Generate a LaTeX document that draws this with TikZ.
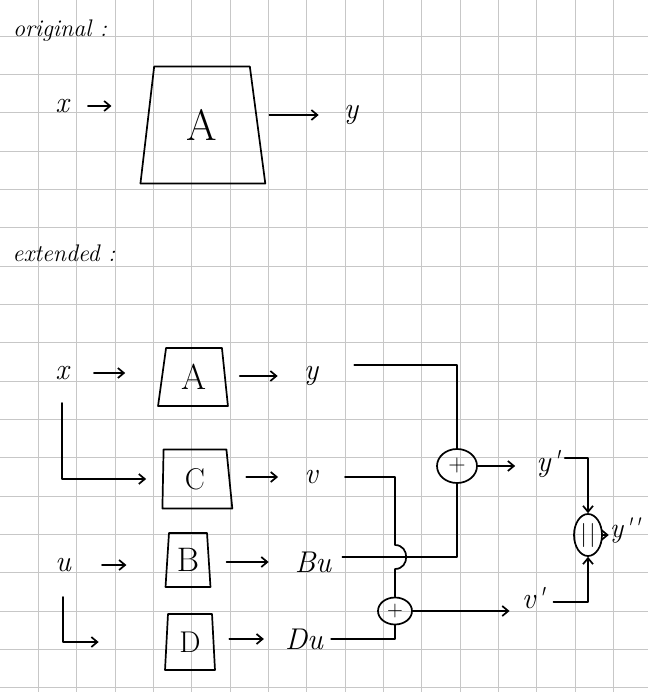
\documentclass[tikz,border=0pt]{standalone}
\usepackage{fontspec}
\newfontfamily\handfont{Latin Modern Roman}
\usetikzlibrary{arrows.meta,shapes.geometric}
\tikzset{
  ink/.style={line width=1.7pt, line cap=round, line join=round},
  arr/.style={ink, -{Straight Barb[length=6pt,width=10pt]}},
  blk/.style={draw, ink, trapezium, trapezium stretches=true, inner sep=0pt},
  var/.style={inner sep=1pt, font=\handfont\itshape\fontsize{30}{32}\selectfont},
  sumnode/.style={draw, ink, ellipse, inner sep=0pt, font=\handfont},
  gridline/.style={draw=black!22, line width=0.9pt},
  title/.style={font=\handfont\itshape\fontsize{24}{26}\selectfont, inner sep=0pt},
}
\begin{document}
\begin{tikzpicture}[x=1pt,y=-1pt]
\fill[white] (0,0) rectangle (648,692);
\useasboundingbox (0,0) rectangle (648,692);
\foreach \k in {1,...,16} \draw[gridline] ({38.33*\k},0) -- ({38.33*\k},692);
\foreach \k in {0,...,17} \draw[gridline] (0,{36+38.33*\k}) -- (648,{36+38.33*\k});

% ---------- original ----------
\node[title] (orig) at (60,31) {original :};
\node[var] (x1) at (62,106) {x};
\node[blk, trapezium left angle=82, trapezium right angle=81, minimum width=125pt, minimum height=117pt, font=\handfont\fontsize{44}{46}\selectfont] (A1) at (202,125) {A};
\node[var] (y1) at (351,115) {y};
\draw[arr, shorten <=18pt, shorten >=35pt] (x1.east) -- (x1.east -| A1.west);
\draw[arr, shorten <=11pt, shorten >=24pt] (y1 -| A1.east) -- (y1.west);

% ---------- extended ----------
\node[title] (ext) at (64,253) {extended :};

\node[var] (x2) at (62,373) {x};
\node[blk, trapezium left angle=82, trapezium right angle=84, minimum width=70pt, minimum height=58pt, font=\handfont\fontsize{36}{38}\selectfont] (A2) at (194,377) {A};
\node[var] (y2) at (311,376) {y};
\draw[arr, shorten <=24pt, shorten >=36pt] (x2.east) -- (x2.east -| A2.west);
\draw[arr, shorten <=14pt, shorten >=25pt] (y2 -| A2.east) -- (y2.west);

\node[blk, trapezium left angle=89, trapezium right angle=85, minimum width=70pt, minimum height=59pt, font=\handfont\fontsize{30}{32}\selectfont] (C2) at (195,479) {C};
\node[var] (v2) at (311,477) {v};
\draw[arr, shorten <=22pt, shorten >=16pt] (x2.south) |- (C2.west);
\draw[arr, shorten <=16pt, shorten >=25pt] (v2 -| C2.east) -- (v2.west);

\node[var] (u3) at (63,565) {u};
\node[blk, trapezium left angle=85, trapezium right angle=85, minimum width=45pt, minimum height=54pt, font=\handfont\fontsize{34}{36}\selectfont] (B3) at (188,560) {B};
\node[var] (Bu3) at (313,562) {Bu};
\draw[arr, shorten <=30pt, shorten >=40pt] (u3.east) -- (u3.east -| B3.west);
\draw[arr, shorten <=17pt, shorten >=25pt] (Bu3 -| B3.east) -- (Bu3.west);

\node[blk, trapezium left angle=86, trapezium right angle=86, minimum width=50pt, minimum height=56pt, font=\handfont\fontsize{30}{32}\selectfont] (D4) at (190,642) {D};
\node[var] (Du4) at (304,639) {Du};
\draw[arr, shorten <=24pt, shorten >=67pt] (u3.south) |- (D4.west);
\draw[arr, shorten <=15pt, shorten >=20pt] (Du4 -| D4.east) -- (Du4.west);

% ---------- summing part ----------
\node[sumnode, minimum width=40pt, minimum height=34pt, font=\handfont\fontsize{24}{26}\selectfont] (plus1) at (457,466) {+};
\node[sumnode, minimum width=34pt, minimum height=27pt, font=\handfont\fontsize{22}{24}\selectfont] (plus2) at (395,611) {+};
\node[sumnode, minimum width=28pt, minimum height=42pt, font=\handfont\fontsize{24}{26}\selectfont] (par) at (588,535) {|\kern2pt|};
\node[var] (yp) at (548,464) {y'};
\node[var] (vp) at (533,598) {v'};
\node[var, font=\handfont\itshape\fontsize{28}{30}\selectfont] (ypp) at (625,530) {y''};

\coordinate (busplit) at ([xshift=10pt,yshift=5pt]Bu3.east);
\coordinate (hopc) at (plus2.north |- busplit);

\draw[ink, shorten <=35pt] (y2.north east) -| (plus1.north);
\draw[ink] (busplit) -| (plus1.south);
\draw[ink, shorten <=26pt] (v2.east) -| ([yshift=12pt]hopc)
   to[out=0,in=0,looseness=1.6] ([yshift=-12pt]hopc) -- (plus2.north);
\draw[ink, shorten <=7pt] (Du4.east) -| (plus2.south);

\draw[arr, shorten >=20pt] (plus1.east) -- (plus1.east -| yp.west);
\draw[arr, shorten >=11pt] (plus2.east) -- (plus2.east -| vp.west);
\draw[arr, shorten <=4pt] ([yshift=6pt]yp.east) -| (par.north);
\draw[arr, shorten <=8pt] ([yshift=-4pt]vp.east) -| (par.south);
\draw[arr] (par.east) -- (par.east -| ypp.west);
\end{tikzpicture}
\end{document}
